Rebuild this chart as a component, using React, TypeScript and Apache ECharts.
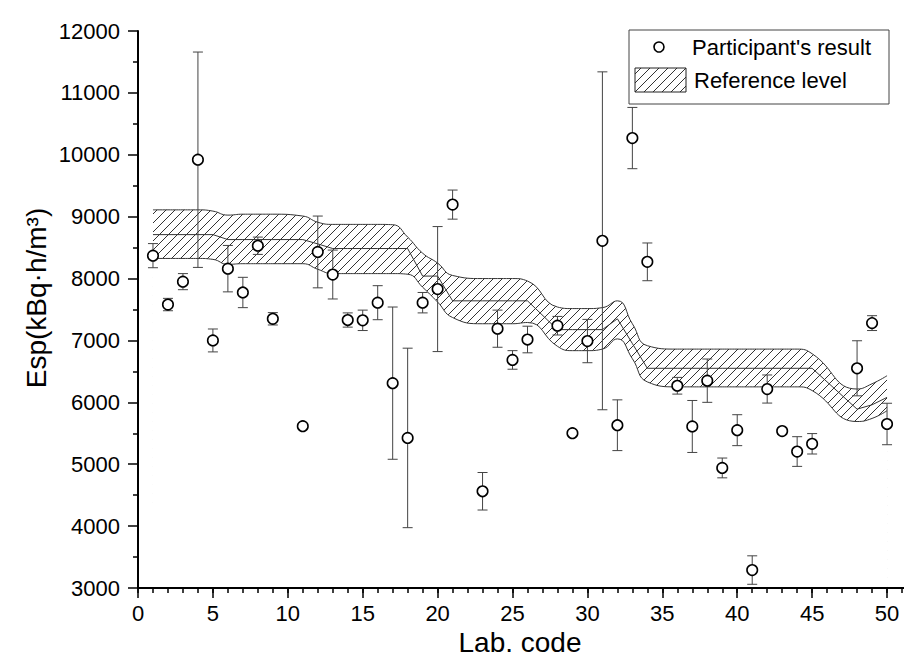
import React, { useEffect, useRef } from 'react';
import * as echarts from 'echarts';

// Lab codes that reported a result
const labCodes = [1, 2, 3, 4, 5, 6, 7, 8, 9, 11, 12, 13, 14, 15, 16, 17, 18, 19, 20, 21, 23, 24, 25, 26, 28, 29, 30, 31, 32, 33, 34, 36, 37, 38, 39, 40, 41, 42, 43, 44, 45, 48, 49, 50];
// Participant's results (kBq·h/m³)
const results = [8370, 7580, 7950, 9920, 7000, 8160, 7775, 8530, 7350, 5615, 8430, 8065, 7330, 7325, 7610, 6310, 5425, 7610, 7830, 9195, 4563, 7190, 6685, 7015, 7238, 5502, 6990, 8610, 5630, 10270, 8270, 6268, 5610, 6350, 4940, 5550, 3290, 6215, 5535, 5205, 5330, 6550, 7280, 5650];
// Participant's uncertainties
const uncertainties = [195, 100, 130, 1740, 185, 375, 245, 140, 100, 40, 580, 395, 115, 165, 275, 1230, 1450, 165, 1010, 235, 303, 300, 150, 215, 150, 30, 350, 2730, 410, 495, 305, 135, 420, 350, 160, 250, 230, 227, 50, 240, 165, 445, 120, 335];
// Reference level (centre line) per lab
const refLevels = [8710, 8710, 8710, 8710, 8710, 8630, 8630, 8630, 8630, 8630, 8560, 8485, 8485, 8485, 8485, 8485, 8485, 8040, 8040, 7640, 7640, 7640, 7640, 7640, 7175, 7175, 7175, 7175, 7350, 6950, 6550, 6550, 6550, 6550, 6550, 6550, 6550, 6550, 6550, 6550, 6550, 5890, 5960, 6080];
// Upper edge of the reference band per lab
const refUpper = [9110, 9110, 9110, 9110, 9090, 9025, 9040, 9040, 9040, 9010, 8910, 8875, 8875, 8875, 8875, 8870, 8670, 8410, 8250, 8050, 8000, 8000, 8000, 7960, 7540, 7515, 7515, 7530, 7640, 7270, 6915, 6860, 6860, 6860, 6860, 6860, 6860, 6860, 6860, 6860, 6785, 6215, 6300, 6430];
// Lower edge of the reference band per lab
const refLower = [8325, 8325, 8325, 8325, 8310, 8230, 8240, 8240, 8240, 8240, 8150, 8080, 8080, 8080, 8080, 8080, 8070, 7860, 7620, 7370, 7270, 7270, 7270, 7290, 6905, 6835, 6835, 6860, 7025, 6705, 6330, 6250, 6250, 6250, 6250, 6250, 6250, 6250, 6250, 6250, 6190, 5690, 5740, 5865];

const xMin = 0;
const xMax = 52;
const yMin = 3000;
const yMax = 12000;

const FONT = "'Liberation Sans', Arial, sans-serif";

function makeHatch(): HTMLCanvasElement {
  const c = document.createElement('canvas');
  c.width = 9;
  c.height = 9;
  const ctx = c.getContext('2d')!;
  ctx.strokeStyle = '#333';
  ctx.lineWidth = 1;
  for (const o of [0, 9, 18]) {
    ctx.beginPath();
    ctx.moveTo(-2, o + 2);
    ctx.lineTo(o + 2, -2);
    ctx.stroke();
  }
  return c;
}

export default function App() {
  const ref = useRef<HTMLDivElement>(null);
  useEffect(() => {
    if (!ref.current) return;
    const chart = echarts.init(ref.current, undefined, { renderer: 'svg' });
    const hatch = makeHatch();
    const pattern = { image: hatch, repeat: 'repeat' } as any;

    const upperData = labCodes.map((l, i) => [l, refUpper[i]]);
    const lowerData = labCodes.map((l, i) => [l, refLower[i]]);
    const centerData = labCodes.map((l, i) => [l, refLevels[i]]);
    const errData = labCodes.map((l, i) => [l, results[i] - uncertainties[i], results[i] + uncertainties[i]]);
    const pointData = labCodes.map((l, i) => [l, results[i]]);

    const tickStyle = { color: '#000', width: 1.5 };
    const labelStyle = { fontSize: 22, fontFamily: FONT, color: '#000' };
    const edgeSmooth = 0.5;

    chart.setOption({
      animation: false,
      grid: { left: 130, top: 23, width: 787, height: 557 },
      xAxis: [
        {
          type: 'value', min: xMin, max: xMax, interval: 1, position: 'bottom', z: 10,
          axisLine: { show: true, onZero: false, lineStyle: { color: '#000', width: 2 } },
          axisTick: { show: true, length: 5, lineStyle: tickStyle },
          axisLabel: { show: false },
          splitLine: { show: false },
        },
        {
          type: 'value', min: xMin, max: xMax, interval: 5, position: 'bottom', z: 10,
          axisLine: { show: false, onZero: false },
          axisTick: { show: true, length: 10, lineStyle: tickStyle },
          axisLabel: { ...labelStyle, margin: 14, formatter: (v: number) => (v % 5 === 0 ? String(v) : '') },
          splitLine: { show: false },
        },
      ],
      yAxis: {
        type: 'value', min: yMin, max: yMax, interval: 1000, z: 10,
        axisLine: { show: true, onZero: false, lineStyle: { color: '#000', width: 2 } },
        axisTick: { show: true, length: 10, lineStyle: tickStyle },
        minorTick: { show: true, splitNumber: 2, length: 5, lineStyle: tickStyle },
        axisLabel: { ...labelStyle, margin: 18, formatter: (v: number) => String(v) },
        splitLine: { show: false },
        minorSplitLine: { show: false },
      },
      series: [
        {
          type: 'line', name: 'upper', data: upperData, smooth: edgeSmooth, symbol: 'none', z: 1,
          lineStyle: { color: '#333', width: 1 },
          areaStyle: { color: pattern, opacity: 1, origin: 'start' },
          silent: true,
        },
        {
          type: 'line', name: 'lower', data: lowerData, smooth: edgeSmooth, symbol: 'none', z: 2,
          lineStyle: { color: '#333', width: 1 },
          areaStyle: { color: '#fff', opacity: 1, origin: 'start' },
          silent: true,
        },
        {
          type: 'line', name: 'Reference level', data: centerData, symbol: 'none', z: 3,
          lineStyle: { color: '#333', width: 1 },
          silent: true,
        },
        {
          type: 'custom', name: 'err', data: errData, z: 4,
          encode: { x: 0, y: [1, 2] },
          renderItem: (params: any, api: any) => {
            const x = api.value(0);
            const lo = api.value(1);
            const hi = api.value(2);
            const top = api.coord([x, hi]);
            const bot = api.coord([x, lo]);
            const w = 5;
            const st = { stroke: '#444', lineWidth: 1 };
            return {
              type: 'group',
              children: [
                { type: 'line', shape: { x1: top[0], y1: top[1], x2: bot[0], y2: bot[1] }, style: st },
                { type: 'line', shape: { x1: top[0] - w, y1: top[1], x2: top[0] + w, y2: top[1] }, style: st },
                { type: 'line', shape: { x1: bot[0] - w, y1: bot[1], x2: bot[0] + w, y2: bot[1] }, style: st },
              ],
            };
          },
        },
        {
          type: 'scatter', name: "Participant's result", data: pointData, z: 5,
          symbol: 'circle', symbolSize: 10.5,
          itemStyle: { color: '#fff', borderColor: '#000', borderWidth: 1.6, opacity: 1 },
        },
      ],
      graphic: [
        {
          type: 'text', x: 512, y: 634, z: 100,
          style: { text: 'Lab. code', font: `28px ${FONT}`, fill: '#000', align: 'center', verticalAlign: 'middle' },
        },
        {
          type: 'text', x: 28, y: 290, rotation: Math.PI / 2, z: 100,
          style: { text: 'Esp(kBq·h/m³)', font: `28px ${FONT}`, fill: '#000', align: 'center', verticalAlign: 'middle' },
        },
        {
          type: 'rect', z: 100,
          shape: { x: 621, y: 22, width: 260, height: 74 },
          style: { fill: '#fff', stroke: '#444', lineWidth: 1 },
        },
        {
          type: 'circle', z: 101,
          shape: { cx: 651, cy: 39, r: 5 },
          style: { fill: '#fff', stroke: '#000', lineWidth: 1.6 },
        },
        {
          type: 'text', x: 684, y: 39, z: 101,
          style: { text: "Participant's result", font: `22px ${FONT}`, fill: '#000', align: 'left', verticalAlign: 'middle' },
        },
        {
          type: 'rect', z: 101,
          shape: { x: 627, y: 60, width: 51, height: 24 },
          style: { fill: pattern, stroke: '#222', lineWidth: 1 },
        },
        {
          type: 'text', x: 686, y: 72, z: 101,
          style: { text: 'Reference level', font: `22px ${FONT}`, fill: '#000', align: 'left', verticalAlign: 'middle' },
        },
      ],
    });
    return () => chart.dispose();
  }, []);
  return <div ref={ref} style={{ width: 912, height: 658 }} />;
}
